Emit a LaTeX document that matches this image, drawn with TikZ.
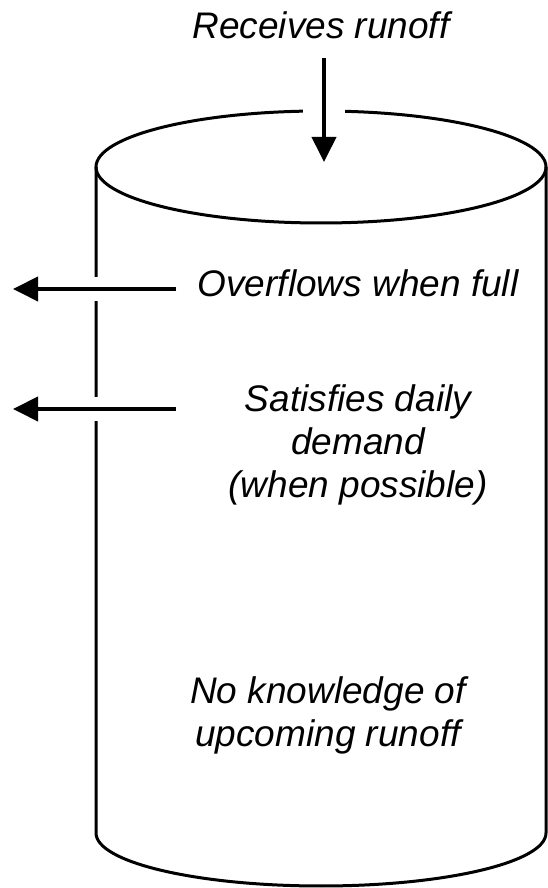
\documentclass[tikz,border=0pt]{standalone}
\usepackage{fontspec}
\setmainfont{Liberation Sans}
\usetikzlibrary{arrows.meta,calc,positioning}
\tikzstyle{tank}=[draw, line width=3pt]
\tikzstyle{notetext}=[inner sep=0pt, align=center,
  font=\fontsize{37}{43}\selectfont\itshape]
\tikzstyle{flow}=[draw, line width=4pt, -{Triangle[length=25pt,width=24pt]}]
\tikzset{cutout/.style={preaction={draw=white, line width=#1, -}}}

\begin{document}
\begin{tikzpicture}[x=1pt,y=1pt]
  \useasboundingbox (0,0) rectangle (547,888);

  % the tank
  \path [tank] (96,721) -- (96,55) arc (180:360:225 and 53) -- (546,721);
  \path [tank] (321,721) ellipse (225 and 56);

  % texts
  \node (RUNOFF) [notetext, anchor=base] at (321,849) {Receives runoff};
  \node (OVERFLOW) [notetext, anchor=base] at (358,591) {Overflows when full};
  \node (DEMAND) [notetext] at (358,443) {Satisfies daily\\ demand\\ (when possible)};
  \node (FORECAST) [notetext] at (328,173) {No knowledge of\\ upcoming runoff};

  % arrow tips
  \coordinate (INFLOW) at (324,726);
  \coordinate (SPILL) at (13,599);
  \coordinate (RELEASE) at (13,479);

  %Draw arrows, cutting the tank outline where they cross it
  \path [flow, cutout=42pt] ($(RUNOFF.south -| INFLOW)+(0,-18)$) -- (INFLOW);
  \path [flow, cutout=24pt] ($(OVERFLOW.west |- SPILL)+(-21,0)$) -- (SPILL);
  \path [flow, cutout=24pt] ($(DEMAND.west |- RELEASE)+(-52,0)$) -- (RELEASE);

\end{tikzpicture}
\end{document}
